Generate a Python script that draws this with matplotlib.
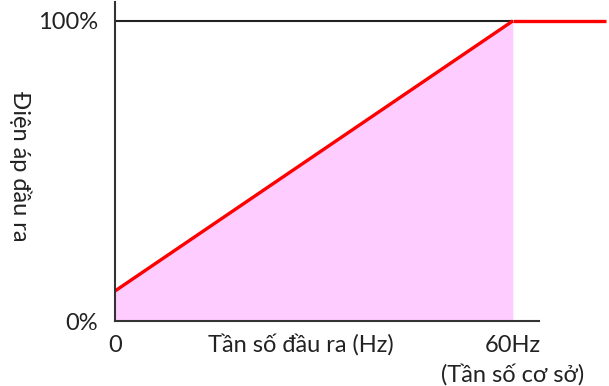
import matplotlib
matplotlib.use("Agg")
import matplotlib.pyplot as plt

plt.rcParams['font.family'] = ['Lato', 'DejaVu Sans']

# V/f curve: output voltage vs output frequency
freq_ramp = [0, 60]          # Hz
volt_ramp = [10, 100]        # %
freq_flat = [60, 74]
volt_flat = [100, 100]

xtick_pos = [0, 60]
xtick_labels = ["0", "60Hz"]
ytick_pos = [0, 100]
ytick_labels = ["0%", "100%"]

fs = 17
fig = plt.figure(figsize=(6.09, 3.86), dpi=100)
ax = fig.add_axes([115 / 609, 1 - 321 / 386, 492 / 609, 319 / 386])
ax.set_xlim(0, 74.2)
ax.set_ylim(0, 106.3)

ax.fill_between(freq_ramp, volt_ramp, 0, color="#ffccff", lw=0)
ax.hlines(100, 0, 60, color="#222222", lw=1.5)
ax.plot(freq_ramp, volt_ramp, color="#ff0000", lw=2.4, solid_capstyle="butt")
ax.plot(freq_flat, volt_flat, color="#ff0000", lw=2.4, solid_capstyle="butt")

for s in ["top", "right"]:
    ax.spines[s].set_visible(False)
for s in ["left", "bottom"]:
    ax.spines[s].set_color("#333333")
    ax.spines[s].set_linewidth(1.5)
ax.spines["bottom"].set_bounds(0, 64)

ax.set_xticks(xtick_pos, xtick_labels, fontsize=fs, color="#222222")
ax.set_yticks(ytick_pos, ytick_labels, fontsize=fs, color="#222222")
ax.tick_params(length=0)
ax.tick_params(axis="x", pad=10)
ax.tick_params(axis="y", pad=12)

ax.text(28, -8, "Tần số đầu ra (Hz)", ha="center", va="center",
        fontsize=fs, color="#222222")
ax.text(60, -17.8, "(Tần số cơ sở)", ha="center", va="center",
        fontsize=fs, color="#222222")
fig.text(20 / 609, 1 - 166 / 386, "Điện áp đầu ra", rotation=-90,
         ha="center", va="center", fontsize=fs, color="#222222")

fig.savefig("out.png", dpi=100)
